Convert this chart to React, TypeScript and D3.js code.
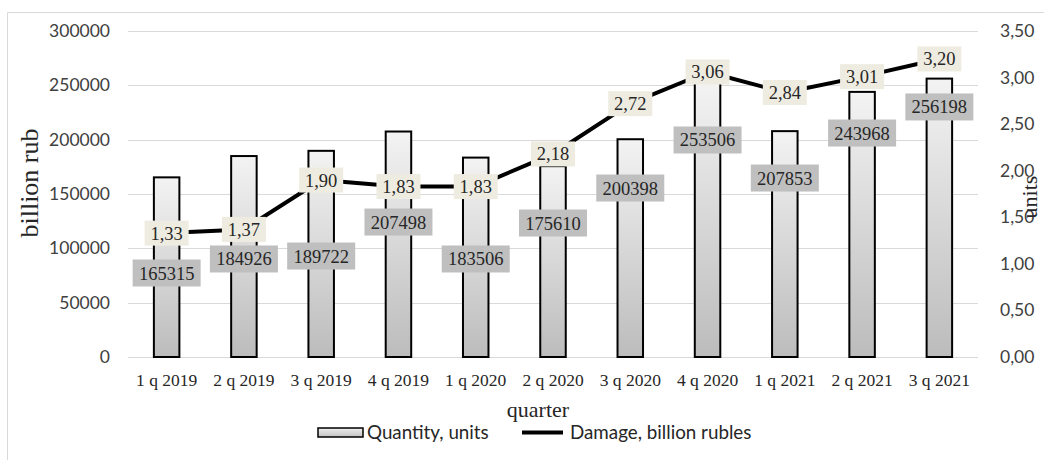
import React from 'react'
import * as d3 from 'd3'

// quarters on the x axis
const quarters = [
  '1 q 2019', '2 q 2019', '3 q 2019', '4 q 2019',
  '1 q 2020', '2 q 2020', '3 q 2020', '4 q 2020',
  '1 q 2021', '2 q 2021', '3 q 2021',
]

// bars: quantity, units (left axis)
const quantity = [165315, 184926, 189722, 207498, 183506, 175610, 200398, 253506, 207853, 243968, 256198]

// where the quantity labels were dragged to, in left axis units
const quantityLabelAt = [77300, 90200, 92900, 124200, 90200, 123300, 155500, 199700, 164700, 206100, 230100]

// line: damage, billion rubles (right axis)
const damage = [1.33, 1.37, 1.9, 1.83, 1.83, 2.18, 2.72, 3.06, 2.84, 3.01, 3.2]

const leftTicks = [0, 50000, 100000, 150000, 200000, 250000, 300000]
const rightTicks = [0, 0.5, 1, 1.5, 2, 2.5, 3, 3.5]

const W = 1044
const H = 460
const plot = { left: 128, right: 978, top: 31, bottom: 357 }

const sans = 'Lato, "Open Sans", sans-serif'
const serif = '"Liberation Serif", "Times New Roman", serif'

const ru = d3.formatLocale({ decimal: ',', thousands: ' ', grouping: [3], currency: ['', ''] })
const fmt2 = ru.format('.2f')

export default function App() {
  const x = d3.scaleBand().domain(quarters).range([plot.left, plot.right])
  const yL = d3.scaleLinear().domain([0, 300000]).range([plot.bottom, plot.top])
  const yR = d3.scaleLinear().domain([0, 3.5]).range([plot.bottom, plot.top])
  const cx = (q: string) => (x(q) ?? 0) + x.bandwidth() / 2
  const barW = x.bandwidth() * 0.33

  const line = d3
    .line<number>()
    .x((_, i) => cx(quarters[i]))
    .y((d) => yR(d))

  return (
    <svg
      width={W}
      height={H}
      style={{ position: 'absolute', left: 0, top: 0, background: '#fff' }}
    >
      <defs>
        <linearGradient id="barFill" x1="0" y1="0" x2="0" y2="1">
          <stop offset="0" stopColor="#f3f3f3" />
          <stop offset="1" stopColor="#bcbcbc" />
        </linearGradient>
        <linearGradient id="legFill" x1="0" y1="0" x2="0" y2="1">
          <stop offset="0" stopColor="#eeeeee" />
          <stop offset="1" stopColor="#c4c4c4" />
        </linearGradient>
      </defs>

      {/* chart area frame */}
      <path d={`M7.5,${H} V12.5 H${W}`} fill="none" stroke="#d9d9d9" strokeWidth={1} />

      {/* gridlines */}
      {leftTicks.map((t) => (
        <line
          key={'g' + t}
          x1={plot.left}
          x2={plot.right}
          y1={Math.round(yL(t)) + 0.5}
          y2={Math.round(yL(t)) + 0.5}
          stroke="#d9d9d9"
          strokeWidth={1}
        />
      ))}

      {/* left ticks */}
      {leftTicks.map((t) => (
        <text
          key={'l' + t}
          x={110}
          y={yL(t) + 6}
          textAnchor="end"
          fontFamily={sans}
          fontSize={17.5}
          fill="#404040"
        >
          {t}
        </text>
      ))}

      {/* right ticks */}
      {rightTicks.map((t) => (
        <text
          key={'r' + t}
          x={1000}
          y={yR(t) + 6}
          fontFamily={sans}
          fontSize={17.5}
          fill="#404040"
        >
          {fmt2(t)}
        </text>
      ))}

      {/* bars */}
      {quantity.map((v, i) => (
        <rect
          key={'b' + i}
          x={cx(quarters[i]) - barW / 2}
          y={yL(v)}
          width={barW}
          height={yL(0) - yL(v)}
          fill="url(#barFill)"
          stroke="#000"
          strokeWidth={2}
        />
      ))}

      {/* damage line */}
      <path
        d={line(damage) ?? ''}
        fill="none"
        stroke="#000"
        strokeWidth={4}
        strokeLinejoin="round"
      />

      {/* quantity labels */}
      {quantity.map((v, i) => {
        const y = yL(quantityLabelAt[i])
        return (
          <g key={'ql' + i}>
            <rect x={cx(quarters[i]) - 34} y={y - 13.5} width={68} height={27} fill="#bfbfbf" />
            <text
              x={cx(quarters[i])}
              y={y + 6.5}
              textAnchor="middle"
              fontFamily={serif}
              fontSize={18.5}
              fill="#262626"
            >
              {v}
            </text>
          </g>
        )
      })}

      {/* damage labels */}
      {damage.map((v, i) => {
        const y = yR(v)
        return (
          <g key={'dl' + i}>
            <rect x={cx(quarters[i]) - 22} y={y - 12.5} width={44} height={25} fill="#eeece1" />
            <text
              x={cx(quarters[i])}
              y={y + 6.5}
              textAnchor="middle"
              fontFamily={serif}
              fontSize={18.5}
              fill="#262626"
            >
              {fmt2(v)}
            </text>
          </g>
        )
      })}

      {/* x tick labels */}
      {quarters.map((q) => (
        <text
          key={'x' + q}
          x={cx(q)}
          y={386}
          textAnchor="middle"
          fontFamily={serif}
          fontSize={17.5}
          fill="#262626"
        >
          {q}
        </text>
      ))}

      {/* axis titles */}
      <text x={538} y={417} textAnchor="middle" fontFamily={serif} fontSize={22} fill="#262626">
        quarter
      </text>
      <text
        transform="translate(38,183) rotate(-90)"
        textAnchor="middle"
        fontFamily={serif}
        fontSize={26}
        fill="#262626"
      >
        billion rub
      </text>
      <text
        transform="translate(1037,197) rotate(-90)"
        textAnchor="middle"
        fontFamily={serif}
        fontSize={22}
        fill="#262626"
      >
        units
      </text>

      {/* legend */}
      <rect x={318} y={428} width={45} height={9} fill="url(#legFill)" stroke="#000" strokeWidth={1.5} />
      <text x={367} y={438.5} fontFamily={sans} fontSize={18.8} fill="#262626">
        Quantity, units
      </text>
      <line x1={522} x2={563} y1={432.5} y2={432.5} stroke="#000" strokeWidth={4} />
      <text x={570} y={438.5} fontFamily={sans} fontSize={18.8} fill="#262626">
        Damage, billion rubles
      </text>
    </svg>
  )
}
